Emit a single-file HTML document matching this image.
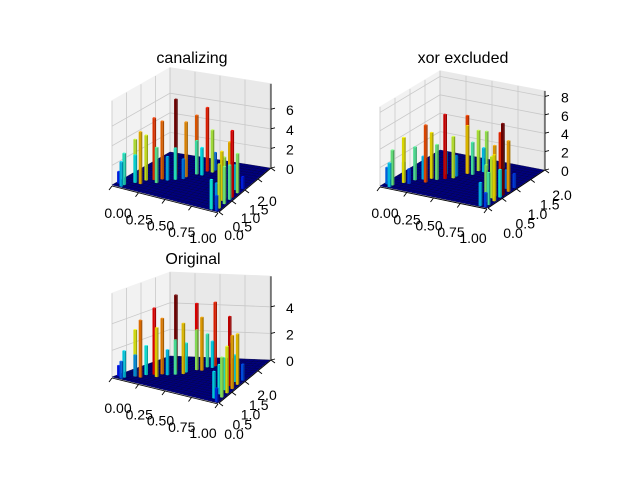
<!DOCTYPE html>
<html><head><meta charset="utf-8">
<style>
html,body{margin:0;padding:0;background:#fff;}
svg{display:block;font-family:"Liberation Sans","DejaVu Sans",sans-serif;}
</style></head>
<body>
<svg id="fig" width="640" height="480" viewBox="0 0 640 480" xmlns="http://www.w3.org/2000/svg">
<rect width="640" height="480" fill="#fff"/>
</svg>
<script>
// ---- data ----
const plotTitles = ["canalizing", "xor excluded", "Original"];
const xTickLabels = ["0.00", "0.25", "0.50", "0.75", "1.00"];
const yTickLabels = ["0.0", "0.5", "1.0", "1.5", "2.0"];
const zTicks1 = [0, 2, 4, 6];
const zTicks2 = [0, 2, 4, 6, 8];
const zTicks3 = [0, 2, 4];
const leftHeights1 = [1.2, 2.5, 3.2, 4.4, 2.8, 5.3, 4.6, 3.6, 6.3, 2.4, 5.9, 3.2, 7.7, 2.0, 5.6, 6.0, 3.4, 2.8, 6.5, 4.3, 1.8, 2.5];
const rightHeights1 = [1.5, 3.0, 4.5, 2.2, 3.8, 5.0, 3.5, 4.2, 6.8, 5.3, 4.0, 2.5, 1.2];
const leftHeights2 = [1.8, 2.6, 3.8, 2.2, 4.9, 1.6, 3.6, 6.2, 2.5, 3.8, 5.0, 7.0, 2.4, 4.5, 2.2, 6.3, 5.2, 3.5, 4.4, 2.6, 4.2, 3.0];
const rightHeights2 = [1.5, 2.5, 3.5, 4.0, 5.0, 4.5, 3.0, 5.5, 7.8, 6.5, 5.5, 2.0, 1.5];
const leftHeights3 = [0.8, 1.3, 2.0, 3.5, 1.6, 4.3, 2.2, 3.7, 5.0, 1.9, 4.2, 2.6, 5.7, 3.8, 2.2, 5.0, 3.0, 4.0, 2.5, 2.0, 4.8, 1.5];
const rightHeights3 = [1.0, 2.0, 3.0, 2.2, 3.5, 2.4, 4.0, 5.2, 3.8, 2.0, 1.2];
const zMax = [8.6, 8.6, 6.3];
</script>
<script>
const NS = "http://www.w3.org/2000/svg";
const fig = document.getElementById('fig');
function mk(tag, attrs, parent){ const e=document.createElementNS(NS,tag); for(const k in attrs) e.setAttribute(k,attrs[k]); (parent||fig).appendChild(e); return e; }

function jet(v){
  const c = x => Math.max(0, Math.min(1, x));
  const r = c(1.5 - Math.abs(4*v - 3)), g = c(1.5 - Math.abs(4*v - 2)), b = c(1.5 - Math.abs(4*v - 1));
  return [r*255, g*255, b*255];
}
function rgb(a, f){ return 'rgb(' + a.map(x => Math.round(Math.min(255, x*f))).join(',') + ')'; }

const layouts = [
  {A:[112,185], B:[218,212], C:[270,168], D:[170,152], kz:9.8, title:[192,63], xl0:[118,218], xl1:[203,243], yl0:[234,240], yl1:[267,206], zlx:286},
  {A:[380,186], B:[487,208], C:[544,170], D:[440,150], kz:9.2, title:[463,63], xl0:[385,218], xl1:[473,243], yl0:[513,238], yl1:[562,200], zlx:561},
  {A:[112,377], B:[218,403], C:[270,360], D:[170,356], kz:13.3, title:[193,264], xl0:[118,413], xl1:[203,438], yl0:[234,439], yl1:[267,400], zlx:286}
];
const zTickSets = [zTicks1, zTicks2, zTicks3];
const leftSets = [leftHeights1, leftHeights2, leftHeights3];
const rightSets = [rightHeights1, rightHeights2, rightHeights3];

layouts.forEach((L, p) => {
  const g = mk('g', {});
  
  
  const A=L.A, B=L.B, C=L.C, D=L.D;
  const P = (x, y, z) => { const v = y/2;
    const sx = (1-x)*(1-v)*A[0] + x*(1-v)*B[0] + x*v*C[0] + (1-x)*v*D[0];
    const sy = (1-x)*(1-v)*A[1] + x*(1-v)*B[1] + x*v*C[1] + (1-x)*v*D[1];
    return [sx, sy - z*L.kz]; };
  const pts = arr => arr.map(q => q[0].toFixed(1)+','+q[1].toFixed(1)).join(' ');
  const zm = zMax[p];
  const wl = mk('polygon', {points: pts([P(0,0,0),P(0,2,0),P(0,2,zm),P(0,0,zm)]), fill:'#f2f2f2', stroke:'#f2f2f2'}, g);
   
  const wr = mk('polygon', {points: pts([P(0,2,0),P(1,2,0),P(1,2,zm),P(0,2,zm)]), fill:'#e9e9e9', stroke:'#e9e9e9'}, g);
   
  const gl = 'stroke:#c8c8c8;stroke-width:0.8';
  for (let i=0;i<5;i++){ const x=i/4, y=i/2;
    let a=P(x,2,0), b=P(x,2,zm); mk('line',{x1:a[0],y1:a[1],x2:b[0],y2:b[1],style:gl},g);
    a=P(0,y,0); b=P(0,y,zm); mk('line',{x1:a[0],y1:a[1],x2:b[0],y2:b[1],style:gl},g);
  }
  zTickSets[p].forEach(z => {
    let a=P(0,0,z), b=P(0,2,z), c=P(1,2,z);
    mk('polyline',{points:pts([a,b,c]),fill:'none',style:gl},g);
  });
  const floor = mk('g', {}, g);
   
  for (let i=0;i<20;i++) for (let j=0;j<20;j++){
    const x0=i/20,x1=(i+1)/20,y0=j/10,y1=(j+1)/10;
    mk('polygon',{points:pts([P(x0,y0,0),P(x1,y0,0),P(x1,y1,0),P(x0,y1,0)]),fill:'#00007f',stroke:'#000045','stroke-width':0.4},floor);
  }
  const bars = [];
  const lh = leftSets[p], rh = rightSets[p];
  lh.forEach((h, k) => { const t = k/(lh.length-1);
    bars.push({x: Math.min(0.95, Math.floor(t*12)*0.05 + (k%2)*0.05), y: Math.min(1.9, Math.floor(t*16)*0.1 + (k%3===0?0.1:0)), h: h, name:'bar-diag-'+k}); });
  rh.forEach((h, k) => { const t = k/(rh.length-1);
    bars.push({x: 0.95 - (k%2)*0.05, y: Math.floor(t*10)*0.1, h: h, name:'bar-edge-'+k}); });
  const hmax = Math.max(...lh, ...rh);
  bars.sort((a,b) => (a.x - a.y/2) - (b.x - b.y/2));
  bars.forEach(bd => {
    const w = 0.45;
    const x0 = bd.x + 0.05*(1-w)/2, x1 = x0 + 0.05*w, y0 = bd.y + 0.1*(1-w)/2, y1 = y0 + 0.1*w, h = bd.h;
    const col = jet(h / hmax);
    const bg = mk('g', {}, g);
    
    
    mk('polygon',{points:pts([P(x0,y0,0),P(x1,y0,0),P(x1,y0,h),P(x0,y0,h)]),fill:rgb(col,0.85)},bg);
    mk('polygon',{points:pts([P(x1,y0,0),P(x1,y1,0),P(x1,y1,h),P(x1,y0,h)]),fill:rgb(col,0.65)},bg);
    mk('polygon',{points:pts([P(x0,y0,h),P(x1,y0,h),P(x1,y1,h),P(x0,y1,h)]),fill:rgb(col,1.0)},bg);
  });
  const ax = 'stroke:#000;stroke-width:0.9';
  let a=P(0,0,0), b=P(1,0,0); mk('line',{x1:a[0],y1:a[1]+1,x2:b[0],y2:b[1]+1,style:ax},g);
  a=P(1,0,0); b=P(1,2,0); mk('line',{x1:a[0]+1,y1:a[1],x2:b[0]+1,y2:b[1],style:ax},g);
  a=P(1,2,0); b=P(1,2,zm); mk('line',{x1:a[0]+1,y1:a[1],x2:b[0]+1,y2:b[1],style:ax},g);
  xTickLabels.forEach((s,i) => { const t=i/4; const q=P(t,0,0);
    mk('line',{x1:q[0],y1:q[1]+1,x2:q[0]-3,y2:q[1]+5,style:ax},g);
    const tx = mk('text',{x:L.xl0[0]+t*(L.xl1[0]-L.xl0[0]), y:L.xl0[1]+t*(L.xl1[1]-L.xl0[1]), 'font-size':14,'text-anchor':'middle',fill:'#000'},g);
    tx.textContent = s;   });
  yTickLabels.forEach((s,i) => { const t=i/4; const q=P(1,t*2,0);
    mk('line',{x1:q[0]+1,y1:q[1],x2:q[0]+5,y2:q[1]+3,style:ax},g);
    const tx = mk('text',{x:L.yl0[0]+t*(L.yl1[0]-L.yl0[0]), y:L.yl0[1]+t*(L.yl1[1]-L.yl0[1]), 'font-size':14,'text-anchor':'middle',fill:'#000'},g);
    tx.textContent = s;   });
  zTickSets[p].forEach(z => { const q=P(1,2,z);
    mk('line',{x1:q[0]+1,y1:q[1],x2:q[0]+5,y2:q[1]-1,style:ax},g);
    const tx = mk('text',{x:L.zlx, y:q[1]+6, 'font-size':14,'text-anchor':'start',fill:'#000'},g);
    tx.textContent = z;   });
  const tt = mk('text',{x:L.title[0], y:L.title[1], 'font-size':16,'text-anchor':'middle',fill:'#000'},g);
  tt.textContent = plotTitles[p];
  
  
});
</script>
</body></html>
